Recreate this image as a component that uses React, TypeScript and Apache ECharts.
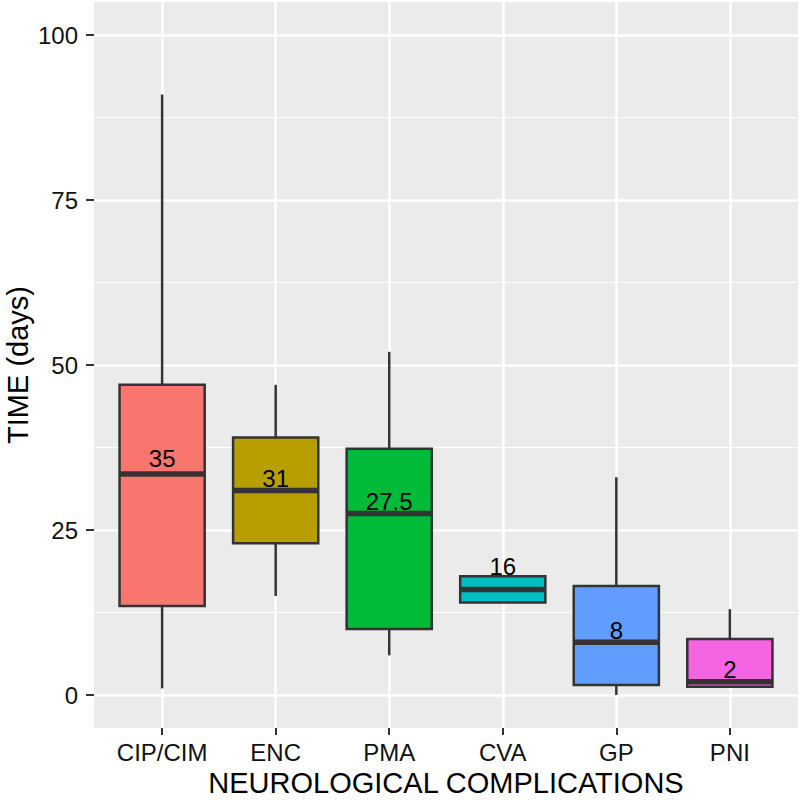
import React, { useEffect, useRef } from "react";
import * as echarts from "echarts";

const categories = ["CIP/CIM", "ENC", "PMA", "CVA", "GP", "PNI"];
// [min (lower whisker), Q1, median, Q3, max (upper whisker)]
const lowerWhisker = [1, 15, 6, 14, 0, 1.25];
const q1Values = [13.5, 23, 10, 14, 1.5, 1.25];
const medianValues = [33.5, 31, 27.5, 16, 8, 2];
const q3Values = [47, 39, 37.3, 18, 16.5, 8.5];
const upperWhisker = [91, 47, 52, 18, 33, 13];
const medianLabels = ["35", "31", "27.5", "16", "8", "2"];
const labelAt = [35.8, 32.8, 29.3, 19.4, 9.7, 3.9];
const yTicks = [0, 25, 50, 75, 100];
const yMinorTicks = [12.5, 37.5, 62.5, 87.5];

const palette = ["#F8766D", "#B79F00", "#00BA38", "#00BFC4", "#619CFF", "#F564E3"];
const FONT = "'Liberation Sans', Arial, Helvetica, sans-serif";

export default function App() {
  const ref = useRef<HTMLDivElement>(null);
  useEffect(() => {
    document.body.style.margin = "0";
    if (!ref.current) return;
    const chart = echarts.init(ref.current, null, { renderer: "svg" });
    const data = categories.map((_, i) => [
      i,
      lowerWhisker[i],
      q1Values[i],
      medianValues[i],
      q3Values[i],
      upperWhisker[i],
      labelAt[i],
    ]);
    const option: any = {
      animation: false,
      backgroundColor: "#ffffff",
      textStyle: { fontFamily: FONT },
      grid: {
        left: 94,
        right: 2,
        top: 2,
        bottom: 72,
        show: true,
        backgroundColor: "#EBEBEB",
        borderWidth: 0,
        containLabel: false,
        outerBoundsMode: "none",
      },
      xAxis: {
        type: "value",
        min: -0.6,
        max: 5.6,
        name: "NEUROLOGICAL COMPLICATIONS",
        nameLocation: "middle",
        nameGap: 40,
        nameMoveOverlap: false,
        nameTextStyle: { fontSize: 29, lineHeight: 29, color: "#000", fontFamily: FONT },
        axisLine: { show: false, onZero: false },
        axisTick: {
          show: true,
          customValues: [0, 1, 2, 3, 4, 5],
          length: 7,
          lineStyle: { color: "#333333", width: 2 },
        },
        axisLabel: {
          customValues: [0, 1, 2, 3, 4, 5],
          formatter: (v: number) => categories[Math.round(v)] ?? "",
          fontSize: 24,
          color: "#111",
          margin: 12,
          fontFamily: FONT,
        },
        splitLine: { show: true, lineStyle: { color: "#ffffff", width: 2.5 } },
      },
      yAxis: [
        {
          type: "value",
          min: -5,
          max: 105,
          name: "TIME (days)",
          nameLocation: "middle",
          nameRotate: 90,
          nameGap: 62,
          nameMoveOverlap: false,
          nameTextStyle: { fontSize: 29, lineHeight: 28, color: "#000", fontFamily: FONT },
          axisLine: { show: false, onZero: false },
          axisTick: {
            show: true,
            customValues: yTicks,
            length: 8,
            lineStyle: { color: "#333333", width: 2 },
          },
          axisLabel: {
            customValues: yTicks,
            fontSize: 24,
            color: "#111",
            margin: 16,
            fontFamily: FONT,
          },
          splitLine: { show: true, lineStyle: { color: "#ffffff", width: 2.5 } },
        },
        {
          type: "value",
          min: -5,
          max: 105,
          position: "left",
          axisLine: { show: false, onZero: false },
          axisTick: { show: false, customValues: yMinorTicks },
          axisLabel: { show: false, customValues: yMinorTicks },
          splitLine: { show: true, lineStyle: { color: "#ffffff", width: 1.2 } },
        },
      ],
      series: [
        {
          type: "custom",
          xAxisIndex: 0,
          yAxisIndex: 0,
          data,
          encode: { x: 0, y: [1, 2, 3, 4, 5] },
          renderItem: (params: any, api: any) => {
            const x = api.value(0);
            const pMin = api.coord([x, api.value(1)]);
            const pQ1 = api.coord([x, api.value(2)]);
            const pMed = api.coord([x, api.value(3)]);
            const pQ3 = api.coord([x, api.value(4)]);
            const pMax = api.coord([x, api.value(5)]);
            const pLab = api.coord([x, api.value(6)]);
            const cx = pMed[0];
            const w = api.size([1, 0])[0] * 0.75;
            const stroke = "#333333";
            const idx = params.dataIndex;
            return {
              type: "group",
              children: [
                {
                  type: "line",
                  shape: { x1: cx, y1: pQ3[1], x2: cx, y2: pMax[1] },
                  style: { stroke, lineWidth: 2.5 },
                },
                {
                  type: "line",
                  shape: { x1: cx, y1: pQ1[1], x2: cx, y2: pMin[1] },
                  style: { stroke, lineWidth: 2.5 },
                },
                {
                  type: "rect",
                  shape: { x: cx - w / 2, y: pQ3[1], width: w, height: pQ1[1] - pQ3[1] },
                  style: { fill: palette[idx], stroke, lineWidth: 2.5 },
                },
                {
                  type: "line",
                  shape: { x1: cx - w / 2, y1: pMed[1], x2: cx + w / 2, y2: pMed[1] },
                  style: { stroke, lineWidth: 5.5 },
                },
                {
                  type: "text",
                  x: cx,
                  y: pLab[1],
                  style: {
                    text: medianLabels[idx],
                    fill: "#000",
                    fontSize: 24,
                    fontFamily: FONT,
                    align: "center",
                    verticalAlign: "middle",
                  },
                },
              ],
            };
          },
        },
      ],
    };
    chart.setOption(option);
    return () => chart.dispose();
  }, []);
  return <div ref={ref} style={{ width: 800, height: 800 }} />;
}
